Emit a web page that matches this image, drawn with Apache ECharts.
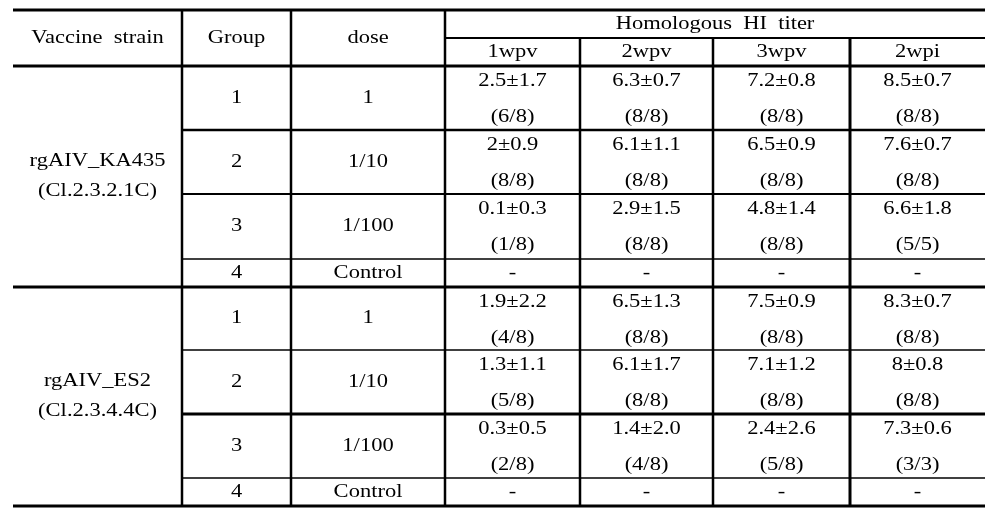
<!DOCTYPE html>
<html>
<head>
  <meta charset="utf-8">
  <title>Homologous HI titer</title>
  <script src="https://cdn.jsdelivr.net/npm/echarts@6/dist/echarts.min.js"></script>
  <style>
    html, body { margin: 0; padding: 0; background: #fff; }
  </style>
</head>
<body>
  <div id="main" style="width:1002px;height:522px;"></div>
  <script type="text/javascript">
    // table contents
    var strains = ['rgAIV_KA435', 'rgAIV_ES2'];
    var clades = ['(Cl.2.3.2.1C)', '(Cl.2.3.4.4C)'];
    var groups = ['1', '2', '3', '4'];
    var doses = ['1', '1/10', '1/100', 'Control'];
    var weeks = ['1wpv', '2wpv', '3wpv', '2wpi'];
    var titerKA435 = [
      ['2.5±1.7', '6.3±0.7', '7.2±0.8', '8.5±0.7'],
      ['2±0.9', '6.1±1.1', '6.5±0.9', '7.6±0.7'],
      ['0.1±0.3', '2.9±1.5', '4.8±1.4', '6.6±1.8'],
      ['-', '-', '-', '-']
    ];
    var posKA435 = [
      ['6/8', '8/8', '8/8', '8/8'],
      ['8/8', '8/8', '8/8', '8/8'],
      ['1/8', '8/8', '8/8', '5/5']
    ];
    var titerES2 = [
      ['1.9±2.2', '6.5±1.3', '7.5±0.9', '8.3±0.7'],
      ['1.3±1.1', '6.1±1.7', '7.1±1.2', '8±0.8'],
      ['0.3±0.5', '1.4±2.0', '2.4±2.6', '7.3±0.6'],
      ['-', '-', '-', '-']
    ];
    var posES2 = [
      ['4/8', '8/8', '8/8', '8/8'],
      ['5/8', '8/8', '8/8', '8/8'],
      ['2/8', '4/8', '5/8', '3/3']
    ];
    var titers = [titerKA435, titerES2];
    var positives = [posKA435, posES2];

    // layout (axis units = pixels)
    var colEdges = [13, 182, 291, 445, 580, 713, 850, 985];
    var headRows = [10, 38, 66];
    var bodyRows = [[66, 130, 194, 259, 287], [287, 350, 414, 478, 506]];

    function mid(a, b) { return (a + b) / 2; }

    // text cells: [x, y, text]
    var cells = [];
    cells.push([mid(colEdges[0], colEdges[1]), 38, 'Vaccine  strain']);
    cells.push([mid(colEdges[1], colEdges[2]), 38, 'Group']);
    cells.push([mid(colEdges[2], colEdges[3]), 38, 'dose']);
    cells.push([mid(colEdges[3], colEdges[7]), 24, 'Homologous  HI  titer']);
    weeks.forEach(function (w, j) {
      cells.push([mid(colEdges[3 + j], colEdges[4 + j]), 52, w]);
    });
    strains.forEach(function (s, k) {
      var rows = bodyRows[k];
      var cy = mid(rows[0], rows[4]);
      cells.push([mid(colEdges[0], colEdges[1]), cy - 15, s]);
      cells.push([mid(colEdges[0], colEdges[1]), cy + 15, clades[k]]);
      groups.forEach(function (g, i) {
        var top = rows[i], bot = rows[i + 1];
        cells.push([mid(colEdges[1], colEdges[2]), mid(top, bot), g]);
        cells.push([mid(colEdges[2], colEdges[3]), mid(top, bot), doses[i]]);
        weeks.forEach(function (w, j) {
          var cx = mid(colEdges[3 + j], colEdges[4 + j]);
          if (positives[k][i]) {
            cells.push([cx, top + 15, titers[k][i][j]]);
            cells.push([cx, top + 51, '(' + positives[k][i][j] + ')']);
          } else {
            cells.push([cx, mid(top, bot), titers[k][i][j]]);
          }
        });
      });
    });

    // rules: [x1, y1, x2, y2, width]
    var rules = [];
    var L = colEdges[0], R = colEdges[7];
    rules.push([L, headRows[0], R, headRows[0], 3]);
    rules.push([colEdges[3], headRows[1], R, headRows[1], 2]);
    rules.push([L, headRows[2], R, headRows[2], 3]);
    rules.push([L, 287, R, 287, 3]);
    rules.push([L, 506, R, 506, 3]);
    var inner = [[130, 2.5], [194, 2], [259, 1.5], [350, 1.5], [414, 3], [478, 1.5]];
    inner.forEach(function (r) { rules.push([colEdges[1], r[0], R, r[0], r[1]]); });
    [1, 2, 3].forEach(function (c) { rules.push([colEdges[c], headRows[0], colEdges[c], 506, 2.5]); });
    [4, 5].forEach(function (c) { rules.push([colEdges[c], headRows[1], colEdges[c], 506, 2.5]); });
    rules.push([colEdges[6], headRows[1], colEdges[6], 506, 3]);

    var myChart = echarts.init(document.getElementById('main'));
    myChart.setOption({
      backgroundColor: '#ffffff',
      animation: false,
      grid: { left: 0, right: 0, top: 0, bottom: 0 },
      xAxis: { type: 'value', min: 0, max: 1002, show: false },
      yAxis: { type: 'value', min: 0, max: 522, inverse: true, show: false },
      series: [{
        type: 'custom',
        coordinateSystem: 'cartesian2d',
        data: rules,
        renderItem: function (params, api) {
          var p1 = api.coord([api.value(0), api.value(1)]);
          var p2 = api.coord([api.value(2), api.value(3)]);
          return {
            type: 'line',
            shape: { x1: p1[0], y1: p1[1], x2: p2[0], y2: p2[1] },
            style: { stroke: '#000', lineWidth: api.value(4) }
          };
        }
      }, {
        type: 'custom',
        coordinateSystem: 'cartesian2d',
        data: cells,
        dimensions: ['x', 'y', { name: 'label', type: 'ordinal' }],
        renderItem: function (params, api) {
          var p = api.coord([api.value(0), api.value(1)]);
          return {
            type: 'text',
            x: p[0],
            y: p[1],
            scaleX: 1.25,
            style: {
              text: cells[params.dataIndex][2],
              x: 0,
              y: 0,
              align: 'center',
              verticalAlign: 'middle',
              fill: '#000',
              font: '18px "Liberation Serif", "Times New Roman", serif'
            }
          };
        }
      }]
    });
  </script>
</body>
</html>
